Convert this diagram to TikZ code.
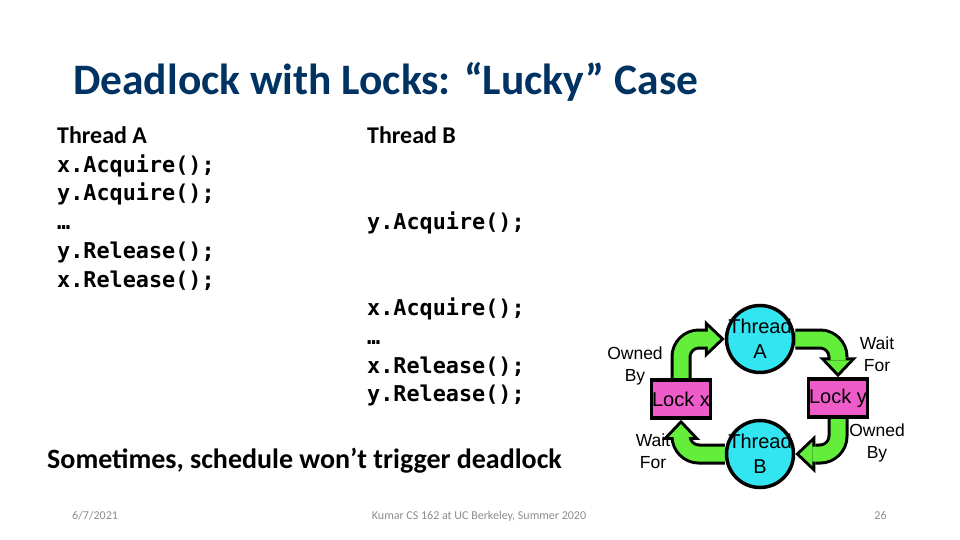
\documentclass[tikz,border=0pt]{standalone}
\usepackage{fontspec}
\setmainfont{Carlito}
\newfontfamily\codefont{DejaVu Sans Mono}
\newfontfamily\clipfont{Liberation Sans}
\usetikzlibrary{arrows.meta, backgrounds}
\definecolor{titleblue}{RGB}{0,50,98}
\definecolor{threadcyan}{RGB}{51,229,240}
\definecolor{lockpink}{RGB}{238,92,202}
\definecolor{arrowgreen}{RGB}{98,238,58}
\definecolor{footgray}{RGB}{140,140,140}

\begin{document}
\begin{tikzpicture}[x=1pt, y=-1pt,
  title/.style={anchor=base west, inner sep=0pt, text=titleblue,
                font=\fontsize{43.5}{52}\selectfont\bfseries},
  head/.style={anchor=base west, inner sep=0pt,
               font=\fontsize{24}{29}\selectfont\bfseries},
  code/.style={anchor=base west, inner sep=0pt,
               font=\fontsize{21.8}{29}\selectfont\codefont\bfseries},
  foot/.style={anchor=base, inner sep=0pt, text=footgray,
               font=\fontsize{12}{14}\selectfont},
  thread/.style={circle, draw, line width=3.5pt, fill=threadcyan,
                 minimum size=67pt, inner sep=0pt},
  threadtxt/.style={align=center, inner sep=0pt,
                    font=\fontsize{20}{25}\selectfont\clipfont},
  lock/.style={rectangle, draw, line width=3.5pt, fill=lockpink,
               minimum width=59pt, minimum height=38pt, inner sep=0pt,
               font=\fontsize{20}{24}\selectfont\clipfont},
  edgelbl/.style={align=center, inner sep=0pt,
                  font=\fontsize{17.5}{22}\selectfont\clipfont},
  fatout/.style={line width=21pt, rounded corners=18pt,
                 -{Triangle[width=38pt, length=20pt, line width=0pt]}},
  fatin/.style={arrowgreen, line width=15pt, rounded corners=18pt, shorten >=4.4pt,
                -{Triangle[width=24pt, length=12.6pt, line width=0pt]}},
]
\useasboundingbox (0,0) rectangle (960,540);

% Titel
\node[title] (title) at (73,95) {Deadlock with Locks: “Lucky” Case};

% Thread A
\node[head] (headA) at (57,143.5) {Thread A};
\node[code] (a1) at (57,172.2) {x.Acquire();};
\node[code] (a2) at (57,200.9) {y.Acquire();};
\node[code] (a3) at (57,229.6) {…};
\node[code] (a4) at (57,258.3) {y.Release();};
\node[code] (a5) at (57,287.0) {x.Release();};

% Thread B
\node[head] (headB) at (367,143.5) {Thread B};
\node[code] (b1) at (367,229.6) {y.Acquire();};
\node[code] (b2) at (367,315.7) {x.Acquire();};
\node[code] (b3) at (367,344.4) {…};
\node[code] (b4) at (367,373.1) {x.Release();};
\node[code] (b5) at (367,401.8) {y.Release();};

\node[head, font=\fontsize{28}{33}\selectfont\bfseries] (note) at (47,468)
  {Sometimes, schedule won’t trigger deadlock};

% Graph
\node[thread, label={[threadtxt]center:Thread\\A}] (thrA) at (760,339) {};
\node[thread, label={[threadtxt]center:Thread\\B}] (thrB) at (760,454) {};
\node[lock] (lockx) at (681,399) {Lock x};
\node[lock] (locky) at (838,398) {Lock y};

\begin{scope}[on background layer]
  \draw[fatout] (lockx.north) |- (thrA.west);
  \draw[fatin]  (lockx.north) |- (thrA.west);
  \draw[fatout] (thrA.east) -| (locky.north);
  \draw[fatin]  (thrA.east) -| (locky.north);
  \draw[fatout] (locky.south) |- (thrB.east);
  \draw[fatin]  (locky.south) |- (thrB.east);
  \draw[fatout] (thrB.west) -| (lockx.south);
  \draw[fatin]  (thrB.west) -| (lockx.south);
\end{scope}

\node[edgelbl] (ownA) at (635,366) {Owned\\By};
\node[edgelbl] (waitA) at (877,354) {Wait\\For};
\node[edgelbl] (ownB) at (877,443) {Owned\\By};
\node[edgelbl] (waitB) at (653,451) {Wait\\For};

% Fusszeile
\node[foot, anchor=base west] (date) at (72,519) {6/7/2021};
\node[foot] (course) at (479,519) {Kumar CS 162 at UC Berkeley, Summer 2020};
\node[foot] (page) at (880.5,519) {26};
\end{tikzpicture}
\end{document}
